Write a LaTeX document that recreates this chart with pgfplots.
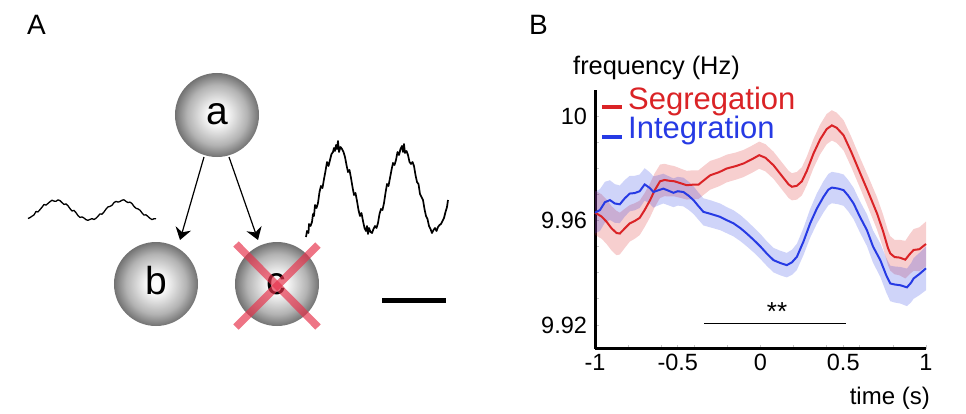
\documentclass[border=0pt]{standalone}
\usepackage{pgfplots}
\pgfplotsset{compat=1.18}
\usepackage{pgfplotstable}
\usepgfplotslibrary{fillbetween}
\usetikzlibrary{arrows.meta}
\usepackage{fontspec}
\setmainfont{Liberation Sans}
\definecolor{segred}{RGB}{218,35,38}
\definecolor{intblue}{RGB}{38,58,228}
\definecolor{xred}{RGB}{230,50,75}
\pgfdeclareradialshading{ball}{\pgfpoint{0bp}{0bp}}{color(0bp)=(white); color(6bp)=(white!97!black); color(18bp)=(black!30); color(28bp)=(black!66); color(35.4bp)=(black!86); color(50bp)=(black!86)}

\pgfplotstableread{
x y e
-1.00 9.9630 0.0085
-0.96 9.9615 0.0085
-0.93 9.9595 0.0085
-0.90 9.9570 0.0085
-0.87 9.9552 0.0085
-0.85 9.9550 0.0080
-0.82 9.9570 0.0075
-0.79 9.9589 0.0070
-0.76 9.9598 0.0068
-0.73 9.9610 0.0066
-0.70 9.9640 0.0065
-0.667 9.9678 0.0065
-0.64 9.9715 0.0065
-0.607 9.9750 0.0064
-0.58 9.9755 0.0062
-0.55 9.9752 0.0060
-0.52 9.9750 0.0058
-0.48 9.9742 0.0056
-0.446 9.9735 0.0055
-0.41 9.9737 0.0055
-0.375 9.9737 0.0055
-0.34 9.9755 0.0055
-0.304 9.9773 0.0055
-0.25 9.9785 0.0054
-0.204 9.9799 0.0053
-0.15 9.9808 0.0052
-0.103 9.9818 0.0052
-0.05 9.9835 0.0052
-0.008 9.9850 0.0052
0.03 9.9840 0.0052
0.079 9.9811 0.0052
0.13 9.9770 0.0052
0.17 9.9738 0.0052
0.19 9.9729 0.0052
0.22 9.9733 0.0053
0.25 9.9750 0.0054
0.28 9.9790 0.0055
0.32 9.9856 0.0056
0.36 9.9910 0.0057
0.40 9.9950 0.0058
0.431 9.9964 0.0058
0.46 9.9955 0.0058
0.502 9.9926 0.0058
0.55 9.9860 0.0058
0.603 9.9780 0.0058
0.65 9.9710 0.0060
0.704 9.9627 0.0062
0.74 9.9560 0.0064
0.77 9.9495 0.0066
0.784 9.9474 0.0066
0.81 9.9460 0.0066
0.84 9.9458 0.0068
0.875 9.9450 0.0072
0.90 9.9470 0.0076
0.925 9.9487 0.0080
0.96 9.9490 0.0084
1.00 9.9510 0.0086
}\segdata

\pgfplotstableread{
x y e
-1.00 9.9630 0.0080
-0.97 9.9640 0.0080
-0.94 9.9670 0.0078
-0.91 9.9678 0.0076
-0.88 9.9665 0.0074
-0.85 9.9662 0.0072
-0.82 9.9685 0.0070
-0.79 9.9703 0.0068
-0.76 9.9705 0.0066
-0.73 9.9712 0.0064
-0.70 9.9738 0.0062
-0.67 9.9725 0.0060
-0.647 9.9709 0.0060
-0.62 9.9715 0.0058
-0.587 9.9722 0.0057
-0.56 9.9715 0.0056
-0.526 9.9706 0.0055
-0.50 9.9712 0.0055
-0.466 9.9709 0.0055
-0.435 9.9695 0.0054
-0.405 9.9678 0.0053
-0.375 9.9655 0.0052
-0.345 9.9633 0.0052
-0.30 9.9625 0.0052
-0.244 9.9614 0.0051
-0.20 9.9600 0.0050
-0.163 9.9589 0.0050
-0.12 9.9570 0.0050
-0.083 9.9550 0.0049
-0.04 9.9525 0.0048
0.00 9.9500 0.0048
0.04 9.9472 0.0047
0.079 9.9448 0.0047
0.12 9.9437 0.0047
0.159 9.9429 0.0047
0.19 9.9440 0.0048
0.22 9.9461 0.0050
0.26 9.9520 0.0052
0.30 9.9589 0.0055
0.34 9.9645 0.0058
0.381 9.9691 0.0060
0.41 9.9718 0.0060
0.431 9.9726 0.0060
0.47 9.9722 0.0060
0.502 9.9716 0.0060
0.53 9.9695 0.0060
0.5625 9.9665 0.0060
0.60 9.9615 0.0060
0.643 9.9563 0.0061
0.68 9.9500 0.0062
0.724 9.9448 0.0064
0.76 9.9390 0.0066
0.784 9.9359 0.0068
0.81 9.9355 0.0069
0.845 9.9352 0.0070
0.885 9.9344 0.0072
0.91 9.9362 0.0075
0.925 9.9378 0.0078
0.96 9.9395 0.0081
1.00 9.9417 0.0084
}\intdata

\begin{document}
\begin{tikzpicture}
\path (0,0) rectangle (966bp,414bp);

% ---------------- Panel A ----------------
\begin{axis}[at={(0bp,0bp)}, anchor=south west, scale only axis,
  width=480bp, height=414bp, xmin=0, xmax=480, ymin=0, ymax=414,
  y dir=reverse, hide axis, clip=false]
  % left small wave
  \addplot[black, line width=1.3bp, line join=round] coordinates {
   (28,218.5) (30,217.6) (32,216.2) (34,214.9) (36,211.5) (38,211.9) (40,209.6) (42,207.2)
   (44,204.5) (46,205.1) (48,203.4) (50,201.7) (52,200.2) (54,201.1) (56,201.3) (58,199.9)
   (60,200.6) (62,202.6) (64,204.4) (66,203.9) (68,205.8) (70,208.6) (72,211.0) (74,210.4)
   (76,212.7) (78,215.6) (80,217.4) (82,216.9) (84,218.0) (86,219.7) (88,220.3) (90,219.4)
   (92,218.6) (94,219.5) (96,218.3) (98,216.2) (100,213.9) (102,214.2) (104,212.0) (106,209.1)
   (108,206.9) (110,206.4) (112,205.3) (114,202.6) (116,201.4) (118,202.1) (120,201.5) (122,200.2)
   (124,199.8) (126,201.4) (128,202.6) (130,202.1) (132,203.6) (134,206.4) (136,208.3) (138,208.9)
   (140,210.2) (142,212.9) (144,215.1) (146,214.8) (148,216.5) (150,218.3) (152,219.6) (154,218.7)
   (156,218.8)};
  % right large wave
  \addplot[black, line width=1.7bp, line join=round] coordinates {
   (306,237) (307,231) (308.5,233) (309,224) (310.5,226) (312,222) (313,214) (314,216) (315,205)
   (316.5,208) (318,203) (319.5,192) (321,186) (322.5,188) (324,179) (325.5,171) (327,162)
   (328.5,166) (330,160) (331.5,154) (333,152) (334,148) (335,151) (336,145) (337,149) (338,141)
   (339,152) (340.5,147) (342,149) (343.5,152) (345,157) (346.5,165) (348,172) (349.5,170)
   (351,178) (352.5,187) (354,195) (355.5,193) (357,201) (358.5,210) (360,216) (361.5,213)
   (363,221) (364.5,228) (366,231) (367,226) (368,234) (369,228) (370.5,232) (372,233) (373.5,229)
   (375,226) (376.5,228) (378,223) (379.5,214) (381,209) (382.5,210) (384,203) (385.5,193)
   (387,184) (388.5,186) (390,178) (391.5,170) (393,163) (394.5,165) (396,160) (397.5,152)
   (399,155) (400.5,149) (402,146) (403,152) (404,144) (405,153) (406.5,151) (408,155)
   (409.5,162) (411,164) (412.5,162) (414,166) (415.5,175) (417,182) (418.5,184) (420,194)
   (421.5,197) (423,200) (424.5,209) (426,216) (427.5,219) (429,226) (430.5,229) (432,233)
   (433.5,230) (435,228) (436.5,231) (438,227) (439.5,225) (441,224) (442.5,221) (444,218)
   (445.5,212) (447,207) (448,200)};
  % scale bar
  \addplot[black, line width=5bp] coordinates {(382,300) (446,300)};
  % neurons
  \shade[shading=ball] (axis cs:217,115) circle[radius=42bp];
  \shade[shading=ball] (axis cs:156,284) circle[radius=42bp];
  \shade[shading=ball] (axis cs:277,284) circle[radius=42bp];
  \node[font=\fontsize{39bp}{41bp}\selectfont] at (axis cs:217,114) {a};
  \node[font=\fontsize{39bp}{41bp}\selectfont] at (axis cs:156,281) {b};
  \node[font=\fontsize{39bp}{41bp}\selectfont] at (axis cs:276,284) {c};
  \draw[line width=1.2bp, -{Stealth[length=12bp, width=16bp, inset=4bp]}] (axis cs:204,157) -- (axis cs:180,240);
  \draw[line width=1.2bp, -{Stealth[length=12bp, width=16bp, inset=4bp]}] (axis cs:229,157) -- (axis cs:258,240);
  \draw[xred, opacity=0.68, line width=7.5bp] (axis cs:236,244) -- (axis cs:318,327);
  \draw[xred, opacity=0.68, line width=7.5bp] (axis cs:318,245) -- (axis cs:236,327);
  \node[anchor=base west, inner sep=0pt, font=\fontsize{28bp}{30bp}\selectfont] at (axis cs:27,35) {A};
  \node[anchor=base west, inner sep=0pt, font=\fontsize{28bp}{30bp}\selectfont] at (axis cs:529,35) {B};
\end{axis}

% ---------------- Panel B ----------------
\begin{axis}[at={(595bp,65bp)}, anchor=south west, scale only axis,
  width=331bp, height=259bp,
  xmin=-1, xmax=1, ymin=9.9108, ymax=10.00995,
  axis x line=bottom, axis y line=left,
  axis line style={line width=3bp, -},
  xtick={-1,-0.5,0,0.5,1}, xticklabels={-1,-0.5,0,0.5,1},
  ytick={9.92,9.96,10}, yticklabels={9.92,9.96,10},
  minor xtick={-0.8,-0.6,-0.4,-0.2,0.2,0.4,0.6,0.8},
  minor ytick={9.93,9.94,9.95,9.97,9.98,9.99},
  tick align=inside, major tick length=4bp, minor tick length=4bp,
  every tick/.style={black!22, line width=0.8bp},
  tick label style={font=\fontsize{23.5bp}{26bp}\selectfont},
  xticklabel style={yshift=-1.5bp},
  yticklabel style={xshift=-4.5bp},
  /pgf/number format/assume math mode=true,
  clip=false]
  \addplot[name path=su, draw=none, forget plot] table[x=x, y expr=\thisrow{y}+\thisrow{e}] {\segdata};
  \addplot[name path=sl, draw=none, forget plot] table[x=x, y expr=\thisrow{y}-\thisrow{e}] {\segdata};
  \addplot[segred, fill opacity=0.22, draw=none, forget plot] fill between[of=su and sl];
  \addplot[name path=iu, draw=none, forget plot] table[x=x, y expr=\thisrow{y}+\thisrow{e}] {\intdata};
  \addplot[name path=il, draw=none, forget plot] table[x=x, y expr=\thisrow{y}-\thisrow{e}] {\intdata};
  \addplot[intblue, fill opacity=0.22, draw=none, forget plot] fill between[of=iu and il];
  \addplot[segred, line width=2bp] table[x=x, y=y] {\segdata};
  \addplot[intblue, line width=2bp] table[x=x, y=y] {\intdata};
  \addplot[black, line width=1.5bp] coordinates {(-0.341,9.9206) (0.518,9.9206)};
  \node[font=\fontsize{26bp}{28bp}\selectfont] at (axis cs:0.1,9.925) {**};
  \node[anchor=base west, inner sep=0pt, font=\fontsize{25.4bp}{27bp}\selectfont] at (rel axis cs:-0.0665,1.058) {frequency (Hz)};
  \node[anchor=base east, inner sep=0pt, font=\fontsize{24bp}{26bp}\selectfont] at (rel axis cs:1.012,-0.2124) {time (s)};
  \draw[segred, line width=4bp] (rel axis cs:0.021,0.934) -- (rel axis cs:0.082,0.934);
  \draw[intblue, line width=4bp] (rel axis cs:0.021,0.8185) -- (rel axis cs:0.082,0.8185);
  \node[anchor=base west, inner sep=0pt, text=segred, font=\fontsize{31bp}{33bp}\selectfont] at (rel axis cs:0.0997,0.9266) {Segregation};
  \node[anchor=base west, inner sep=0pt, text=intblue, font=\fontsize{31bp}{33bp}\selectfont] at (rel axis cs:0.0997,0.8108) {Integration};
\end{axis}
\pgfresetboundingbox
\useasboundingbox (0,0) rectangle (966bp,414bp);
\end{tikzpicture}
\end{document}
